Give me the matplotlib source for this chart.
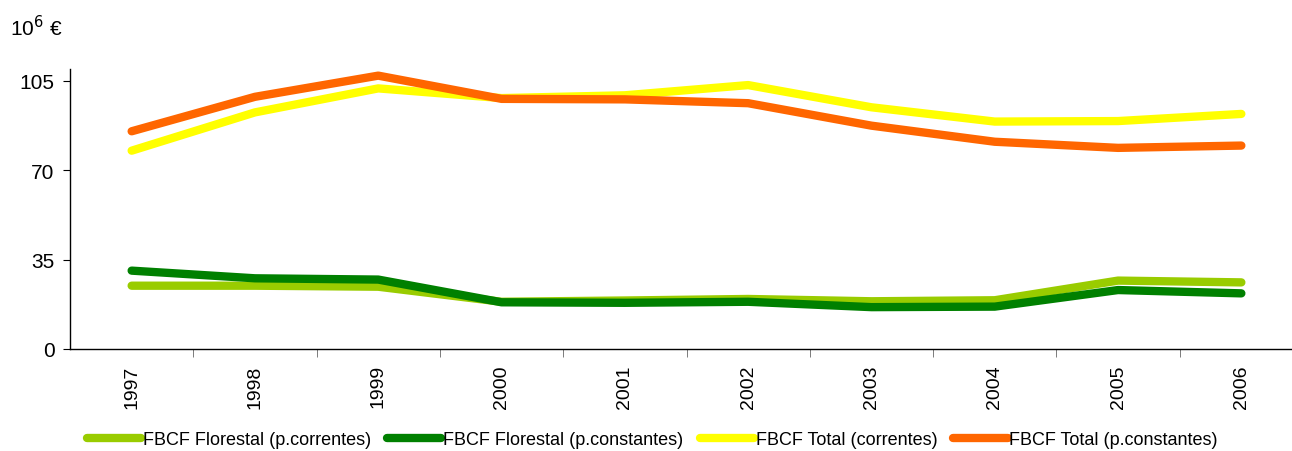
import matplotlib.pyplot as plt

plt.rcParams['font.family'] = ['Liberation Sans', 'DejaVu Sans']

years = ["1997", "1998", "1999", "2000", "2001", "2002", "2003", "2004", "2005", "2006"]

florestal_correntes = [24.8, 24.8, 24.4, 18.5, 19.0, 19.6, 18.7, 19.1, 26.8, 26.1]
florestal_constantes = [30.7, 27.7, 27.2, 18.3, 18.1, 18.5, 16.4, 16.6, 23.1, 21.8]
total_correntes = [77.7, 92.7, 102.1, 98.3, 99.4, 103.4, 94.7, 89.1, 89.3, 92.1]
total_constantes = [85.3, 98.8, 107.1, 98.0, 97.8, 96.3, 87.5, 81.2, 78.8, 79.7]

series = [
    ("FBCF Florestal (p.correntes)", florestal_correntes, "#99CC00"),
    ("FBCF Florestal (p.constantes)", florestal_constantes, "#008000"),
    ("FBCF Total (correntes)", total_correntes, "#FFFF00"),
    ("FBCF Total (p.constantes)", total_constantes, "#FF6600"),
]


def main():
    fig = plt.figure(figsize=(12.92, 4.52), dpi=100)
    ax = fig.add_axes([70 / 1292, 102 / 452, 1233 / 1292, 280 / 452])

    x = list(range(len(years)))
    # totals drawn first, forest lines on top
    order = [2, 3, 0, 1]
    handles = {}
    for i in order:
        label, vals, color = series[i]
        line, = ax.plot(x, vals, color=color, lw=6.0, solid_capstyle="round",
                        solid_joinstyle="round", label=label)
        handles[i] = line

    ax.set_xlim(-0.5, len(years) - 0.5)
    ax.set_ylim(0, 109.7)
    ax.set_yticks([0, 35, 70, 105])
    ax.tick_params(axis="y", labelsize=15, length=5, direction="out", pad=6)

    ax.set_xticks(x)
    ax.set_xticklabels(years, rotation=90, fontsize=14)
    ax.tick_params(axis="x", which="major", length=0, pad=11)
    ax.set_xticks([i + 0.5 for i in x], minor=True)
    ax.tick_params(axis="x", which="minor", length=6, color="#666666")

    for s in ["top", "right"]:
        ax.spines[s].set_visible(False)
    for s in ["left", "bottom"]:
        ax.spines[s].set_color("black")
        ax.spines[s].set_linewidth(1.0)

    fig.text(10 / 1292, 1 - 28 / 452, "10$^6$ €", fontsize=15, va="center", ha="left")

    fig.legend([handles[i] for i in range(4)], [s[0] for s in series],
               loc="center", bbox_to_anchor=(0.505, 1 - 441 / 452), ncol=4,
               frameon=False, fontsize=13, handlelength=3.0, handletextpad=0.1,
               columnspacing=0.9)

    fig.savefig("out.png", dpi=100)


if __name__ == "__main__":
    main()
